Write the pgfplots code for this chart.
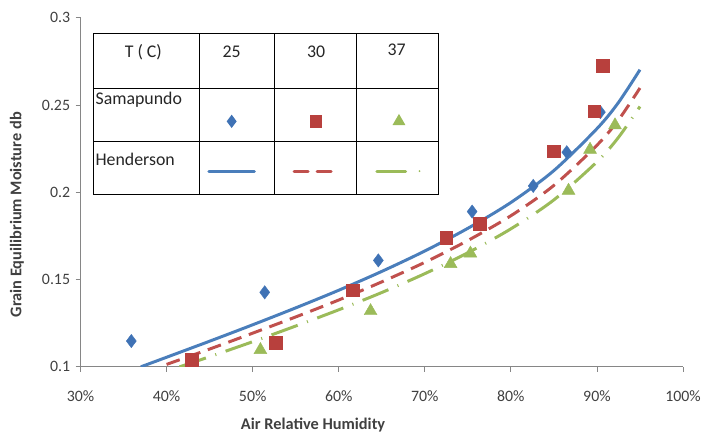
\documentclass[border=0pt]{standalone}
\usepackage{pgfplots}
\pgfplotsset{compat=1.18}
\usepackage{fontspec}
\setmainfont{Carlito}
\definecolor{cblue}{HTML}{4A7EBB}
\definecolor{cbluem}{HTML}{3F72B5}
\definecolor{cred}{HTML}{C0504D}
\definecolor{credm}{HTML}{B8403D}
\definecolor{cgreen}{HTML}{9BBB59}
\definecolor{axgray}{HTML}{868686}
\definecolor{txt}{HTML}{404040}
\definecolor{ltxt}{HTML}{262626}
\begin{document}
\begin{tikzpicture}
\begin{axis}[
  scale only axis, width=606bp, height=351bp,
  xmin=30, xmax=100, ymin=0.1, ymax=0.3,
  axis x line=bottom, axis y line=left,
  axis line style={-, axgray, line width=0.8bp},
  tick style={axgray, line width=0.8bp},
  tick align=outside, major tick length=5bp,
  xtick={30,40,...,100}, ytick={0.1,0.15,0.2,0.25,0.3},
  xticklabel={\pgfmathprintnumber{\tick}\%},
  yticklabel style={/pgf/number format/fixed, /pgf/number format/precision=2},
  /pgf/number format/assume math mode=true,
  ticklabel style={font=\fontsize{16}{19}\selectfont, text=txt},
  xticklabel style={yshift=-15bp},
  yticklabel style={xshift=-2bp},
  label style={font=\bfseries\fontsize{16.5}{19}\selectfont, text=txt},
  xlabel style={at={(axis description cs:0.386,-0.168)}, anchor=center},
  xlabel={Air Relative Humidity},
  clip=true,
]
% Henderson curves
\addplot[cblue, line width=3bp, smooth, no marks] coordinates {
(37,0.1000)(40,0.1055)(45,0.1147)(50,0.1241)(55,0.1338)(60,0.1439)(65,0.1547)(70,0.1664)(75,0.1794)(80,0.1942)(85,0.2125)(90,0.2365)(92.5,0.2515)(95,0.2703)};
\addplot[cred, line width=3bp, smooth, no marks, dash pattern=on 14bp off 8bp] coordinates {
(40,0.1014)(45,0.1102)(50,0.1193)(55,0.1286)(60,0.1383)(65,0.1487)(70,0.1599)(75,0.1724)(80,0.1866)(85,0.2040)(90,0.2270)(92.5,0.2415)(95,0.2598)};
\addplot[cgreen, line width=3bp, smooth, no marks, dash pattern=on 28bp off 10bp on 1bp off 10bp] coordinates {
(41.5,0.1)(45,0.1058)(50,0.1144)(55,0.1234)(60,0.1327)(65,0.1426)(70,0.1534)(75,0.1654)(80,0.1791)(85,0.1957)(90,0.2175)(92.5,0.2315)(95,0.2492)};
% Samapundo data
\addplot[only marks, mark=diamond*, mark size=6.7bp, cbluem, mark options={draw=cbluem, fill=cbluem}] coordinates {
(35.9,0.1148)(51.4,0.1427)(64.6,0.161)(75.5,0.189)(82.6,0.2037)(86.5,0.223)(90.4,0.246)};
\addplot[only marks, mark=square*, mark size=6.3bp, credm, mark options={draw=credm, fill=credm}] coordinates {
(42.9,0.104)(52.7,0.1137)(61.6,0.144)(72.5,0.174)(76.4,0.182)(85.0,0.2237)(89.7,0.2465)(90.7,0.2727)};
\addplot[only marks, mark=triangle*, mark size=7.5bp, cgreen, mark options={draw=cgreen, fill=cgreen}] coordinates {
(50.9,0.1097)(63.7,0.132)(73.0,0.159)(75.3,0.165)(86.7,0.201)(89.2,0.2245)(92.1,0.2385)};
% legend table
\fill[white] (axis cs:31.50,0.1986) rectangle (axis cs:71.58,0.2909);
\draw[black, line width=0.9bp] (axis cs:31.50,0.1986) rectangle (axis cs:71.58,0.2909);
\draw[black, line width=0.9bp] (axis cs:31.50,0.2595) -- (axis cs:71.58,0.2595);
\draw[black, line width=0.9bp] (axis cs:31.50,0.2293) -- (axis cs:71.58,0.2293);
\draw[black, line width=0.9bp] (axis cs:43.86,0.1986) -- (axis cs:43.86,0.2909);
\draw[black, line width=0.9bp] (axis cs:52.52,0.1986) -- (axis cs:52.52,0.2909);
\draw[black, line width=0.9bp] (axis cs:62.11,0.1986) -- (axis cs:62.11,0.2909);
\begin{scope}[every node/.style={font=\fontsize{18}{21}\selectfont, text=ltxt, inner sep=0pt}]
\node[anchor=center] at (axis cs:37.3,0.2806) {T ( C)};
\node[anchor=center] at (axis cs:47.56,0.2806) {25};
\node[anchor=center] at (axis cs:57.38,0.2806) {30};
\node[anchor=center] at (axis cs:66.73,0.2815) {37};
\node[anchor=west] at (axis cs:31.73,0.2533) {Samapundo};
\node[anchor=west] at (axis cs:31.73,0.2191) {Henderson};
\end{scope}
\fill[cbluem] (axis cs:47.56,0.2407) ++(0bp,6.7bp) -- ++(5bp,-6.7bp) -- ++(-5bp,-6.7bp) -- ++(-5bp,6.7bp) -- cycle;
\fill[credm] (axis cs:57.38,0.2407) ++(-6.3bp,-6.3bp) rectangle ++(12.6bp,12.6bp);
\fill[cgreen] (axis cs:67.0,0.2407) ++(0bp,7.5bp) -- ++(6.5bp,-11.25bp) -- ++(-13bp,0bp) -- cycle;
\draw[cblue, line width=3bp, line cap=round] (axis cs:44.90,0.2122) -- (axis cs:50.21,0.2122);
\draw[cred, line width=3bp, line cap=round, dash pattern=on 14bp off 9bp] (axis cs:54.83,0.2122) -- (axis cs:59.45,0.2122);
\draw[cgreen, line width=3bp, line cap=round] (axis cs:64.42,0.2122) -- (axis cs:67.77,0.2122);
\fill[cgreen] (axis cs:69.39,0.2122) circle (1bp);
\end{axis}
\node[rotate=90, anchor=center, font=\bfseries\fontsize{16.5}{19}\selectfont, text=txt] at (-64bp,153bp) {Grain Equilibrium Moisture db};
\path (-81bp,-69bp) rectangle (623bp,369bp);
\end{tikzpicture}
\end{document}
